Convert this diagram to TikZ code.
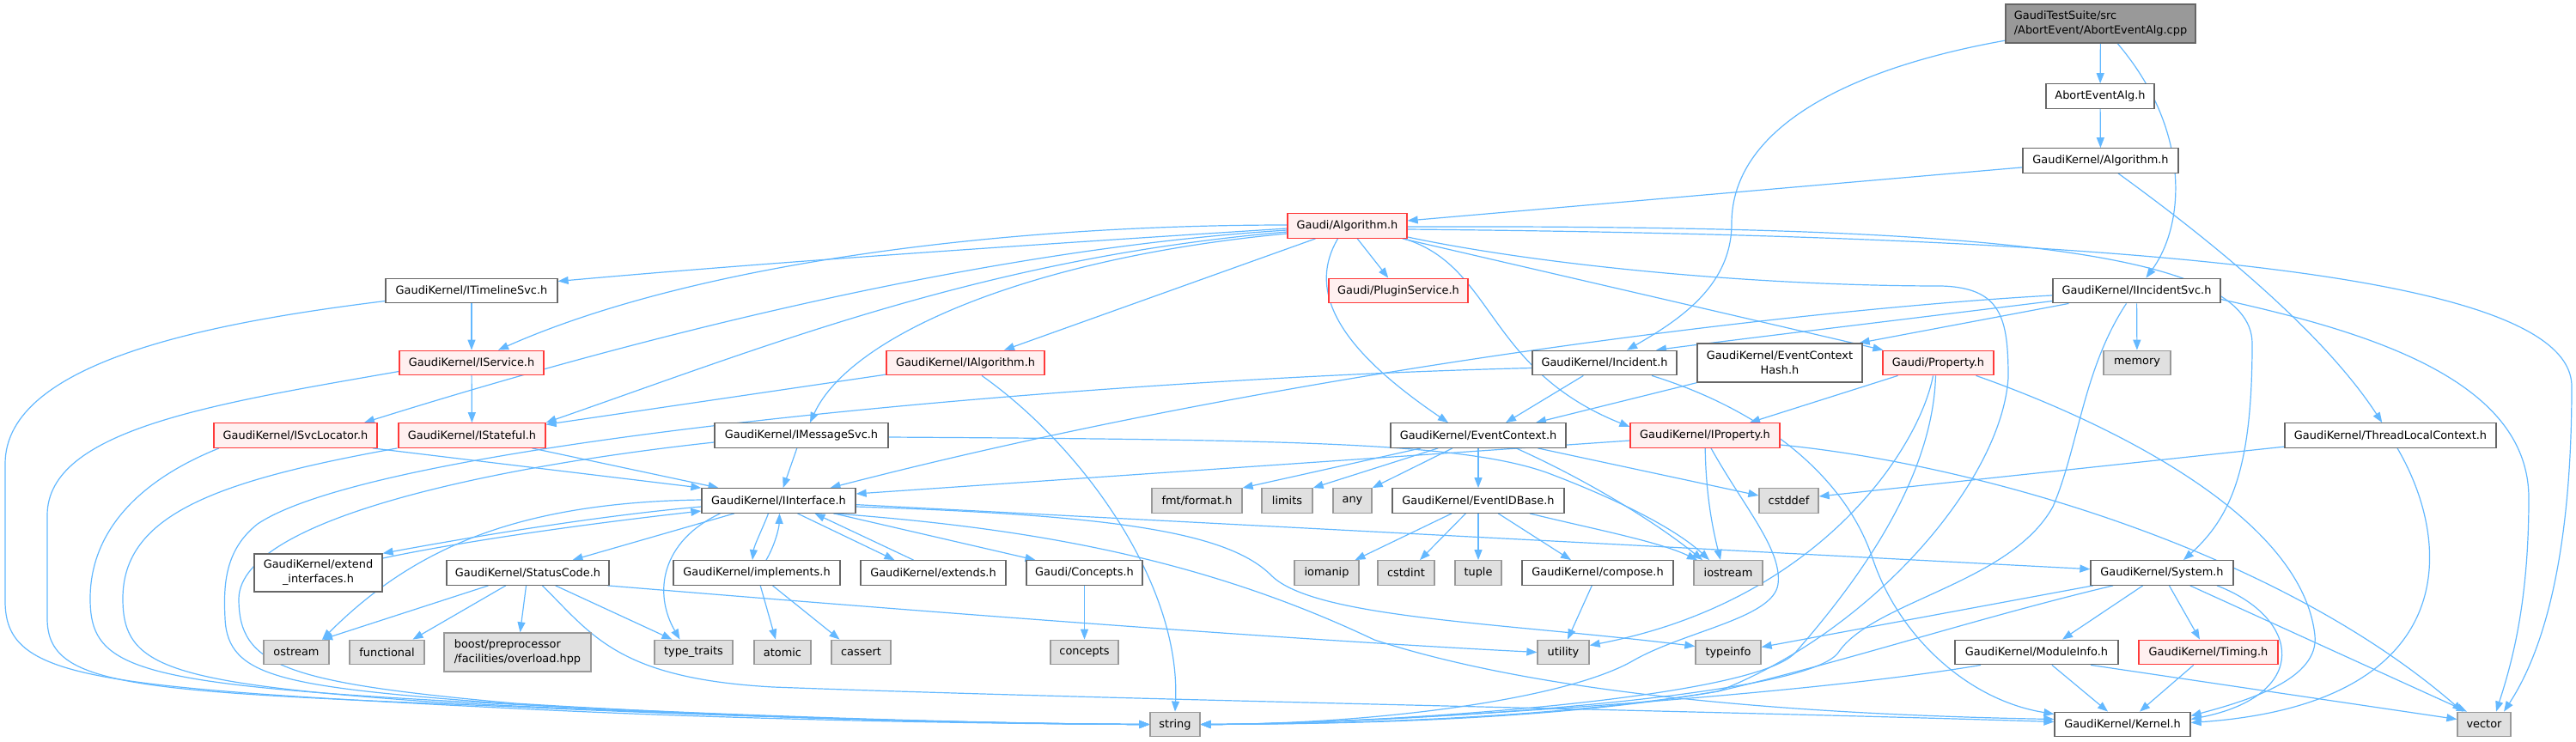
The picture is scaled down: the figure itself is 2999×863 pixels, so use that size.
\documentclass[tikz,border=0pt]{standalone}
\usepackage{fontspec}
\setmainfont{DejaVu Sans}
\usetikzlibrary{arrows.meta}
\pgfdeclarelayer{edgelayer}
\pgfsetlayers{edgelayer,main}
\definecolor{edgec}{HTML}{63B8FF}
\definecolor{nborder}{HTML}{666666}
\definecolor{gborder}{HTML}{999999}
\definecolor{gfill}{HTML}{E0E0E0}
\definecolor{rborder}{HTML}{FF3A3A}
\definecolor{rfill}{HTML}{FFF0F0}
\definecolor{tfill}{HTML}{999999}
\tikzset{
  basebox/.style={line width=1.3pt, inner sep=0pt, minimum height=28.5pt, font=\fontsize{12.9pt}{17pt}\selectfont},
  nb/.style={basebox, draw=nborder, fill=white},
  rb/.style={basebox, draw=rborder, fill=rfill},
  gb/.style={basebox, draw=gborder, fill=gfill},
  topn/.style={basebox, draw=nborder, fill=tfill},
  edg/.style={draw=edgec, line width=1.2pt, -{Triangle[length=12pt,width=9pt]}}
}
\begin{document}
\begin{tikzpicture}[x=1pt,y=-1pt]
\useasboundingbox (0,0) rectangle (2999,863);
% ---------------- nodes
\node[topn,minimum width=221pt,minimum height=45pt,align=left] (top) at (2445.5,27.5) {GaudiTestSuite/src\\/AbortEvent/AbortEventAlg.cpp};
\node[nb,minimum width=126pt] (aeh) at (2445,112) {AbortEventAlg.h};
\node[nb,minimum width=181pt] (gkalg) at (2445.5,187) {GaudiKernel/Algorithm.h};
\node[rb,minimum width=139pt] (galg) at (1568.5,263) {Gaudi/Algorithm.h};
\node[nb,minimum width=200pt] (itl) at (549,338.5) {GaudiKernel/ITimelineSvc.h};
\node[rb,minimum width=162pt] (plug) at (1628,338.5) {Gaudi/PluginService.h};
\node[nb,minimum width=195pt] (iinc) at (2487.5,338.5) {GaudiKernel/IIncidentSvc.h};
\node[rb,minimum width=168pt] (isvc) at (549,422.5) {GaudiKernel/IService.h};
\node[rb,minimum width=184pt] (ialg) at (1124,422.5) {GaudiKernel/IAlgorithm.h};
\node[nb,minimum width=168pt] (inc) at (1868,422.5) {GaudiKernel/Incident.h};
\node[nb,minimum width=192pt,minimum height=45pt,align=center] (ech) at (2072,422.5) {GaudiKernel/EventContext\\Hash.h};
\node[rb,minimum width=129pt] (prop) at (2256.5,422.5) {Gaudi/Property.h};
\node[gb,minimum width=78pt] (mem) at (2488,422.5) {memory};
\node[rb,minimum width=190pt] (isl) at (344,507) {GaudiKernel/ISvcLocator.h};
\node[rb,minimum width=171pt] (ist) at (549.5,507) {GaudiKernel/IStateful.h};
\node[nb,minimum width=202pt] (imsg) at (933,507) {GaudiKernel/IMessageSvc.h};
\node[nb,minimum width=204pt] (ectx) at (1721,507) {GaudiKernel/EventContext.h};
\node[rb,minimum width=174pt] (iprop) at (1985,507) {GaudiKernel/IProperty.h};
\node[nb,minimum width=246pt] (tlc) at (2783,507) {GaudiKernel/ThreadLocalContext.h};
\node[nb,minimum width=179pt] (iif) at (906.5,583) {GaudiKernel/IInterface.h};
\node[gb,minimum width=105pt] (fmt) at (1393.5,583) {fmt/format.h};
\node[gb,minimum width=59pt] (lim) at (1498.5,583) {limits};
\node[gb,minimum width=45pt] (any) at (1574.5,583) {any};
\node[nb,minimum width=200pt] (eid) at (1721,583) {GaudiKernel/EventIDBase.h};
\node[gb,minimum width=69pt] (cstddef) at (2082.5,583) {cstddef};
\node[nb,minimum width=149pt,minimum height=44pt,align=center] (ext) at (370.5,667) {GaudiKernel/extend\\\_interfaces.h};
\node[nb,minimum width=189pt] (sc) at (614.5,667) {GaudiKernel/StatusCode.h};
\node[nb,minimum width=194pt] (impl) at (881,667) {GaudiKernel/implements.h};
\node[nb,minimum width=169pt] (exts) at (1086.5,667) {GaudiKernel/extends.h};
\node[nb,minimum width=135pt] (conc) at (1262.5,667) {Gaudi/Concepts.h};
\node[gb,minimum width=75pt] (ioman) at (1544.5,667) {iomanip};
\node[gb,minimum width=66pt] (cstdint) at (1637,667) {cstdint};
\node[gb,minimum width=54pt] (tuple) at (1721,667) {tuple};
\node[nb,minimum width=176pt] (comp) at (1860,667) {GaudiKernel/compose.h};
\node[gb,minimum width=80pt] (iostr) at (2012,667) {iostream};
\node[nb,minimum width=166pt] (sys) at (2517,667) {GaudiKernel/System.h};
\node[gb,minimum width=76pt] (ostr) at (345,759.5) {ostream};
\node[gb,minimum width=87pt] (func) at (450.5,759.5) {functional};
\node[gb,minimum width=171pt,minimum height=45pt,align=left] (boost) at (602.5,759.5) {boost/preprocessor\\/facilities/overload.hpp};
\node[gb,minimum width=91pt] (tt) at (807.5,759.5) {type\_traits};
\node[gb,minimum width=66pt] (atom) at (911,759.5) {atomic};
\node[gb,minimum width=69pt] (cass) at (1002.5,759.5) {cassert};
\node[gb,minimum width=79pt] (concepts) at (1262.5,759.5) {concepts};
\node[gb,minimum width=60pt] (util) at (1820,759.5) {utility};
\node[gb,minimum width=76pt] (tinfo) at (2012,759.5) {typeinfo};
\node[nb,minimum width=190pt] (modi) at (2371,759.5) {GaudiKernel/ModuleInfo.h};
\node[rb,minimum width=162pt] (timing) at (2571,759.5) {GaudiKernel/Timing.h};
\node[gb,minimum width=58pt] (str) at (1368,843.5) {string};
\node[nb,minimum width=158pt] (kern) at (2471,843.5) {GaudiKernel/Kernel.h};
\node[gb,minimum width=62pt] (vec) at (2892,843.5) {vector};
% ---------------- edges
\begin{pgfonlayer}{edgelayer}
% top
\draw[edg] (top) -- (aeh);
\draw[edg] (top) .. controls (2550,150) and (2545,260) .. (iinc);
\draw[edg] (top) .. controls (2150,80) and (2016,150) .. (2016,260) .. controls (2016,330) and (1960,370) .. (inc);
\draw[edg] (aeh) -- (gkalg);
\draw[edg] (gkalg) -- (galg);
\draw[edg] (gkalg) .. controls (2560,270) and (2700,380) .. (tlc);
% Gaudi/Algorithm.h
\draw[edg] (galg) -- (plug);
\draw[edg] ([yshift=1]galg.west) .. controls (1150,262) and (800,310) .. ([xshift=31]isvc.north);
\draw[edg] ([yshift=-3]galg.west) .. controls (1200,285) and (900,305) .. ([yshift=11]itl.east);
\draw[edg] ([yshift=-5]galg.west) .. controls (1150,290) and (750,390) .. ([xshift=80]isl.north);
\draw[edg] ([yshift=-7]galg.west) .. controls (1150,300) and (900,400) .. (ist.north east);
\draw[edg] ([yshift=-9]galg.west) .. controls (1200,300) and (990,390) .. ([xshift=10]imsg.north);
\draw[edg] ([xshift=-37]galg.south) -- ([xshift=45]ialg.north);
\draw[edg] ([xshift=-11]galg.south) .. controls (1515,350) and (1580,420) .. ([xshift=-35]ectx.north);
\draw[edg] ([xshift=66]galg.south) .. controls (1740,310) and (1730,430) .. ([yshift=10]iprop.west);
\draw[edg] (galg) -- (prop);
\draw[edg] ([yshift=-1]galg.east) .. controls (2300,262) and (2622,290) .. (2622,400) .. controls (2622,540) and (2600,600) .. ([xshift=25]sys.north);
\draw[edg] ([yshift=-4]galg.east) .. controls (2500,275) and (2994,320) .. (2994,450) .. controls (2994,650) and (2960,760) .. ([xshift=23]vec.north);
\draw[edg] ([yshift=-13]galg.east) .. controls (1800,310) and (2050,333) .. (2260,333) .. controls (2330,335) and (2338,370) .. (2338,440) .. controls (2330,560) and (2180,735) .. (2000,805) .. controls (1800,840) and (1550,843) .. (str.east);
% IIncidentSvc
\draw[edg] (iinc) .. controls (2100,360) and (1500,430) .. ([xshift=60]iif.north);
\draw[edg] (iinc) .. controls (2150,380) and (2000,398) .. ([xshift=60]inc.north);
\draw[edg] (iinc) -- ([xshift=-4]ech.north east);
\draw[edg] (iinc) -- (mem);
\draw[edg] ([xshift=-12]iinc.south) .. controls (2425,430) and (2420,520) .. (2390,590) .. controls (2340,680) and (2180,700) .. (2140,760) .. controls (2100,815) and (1600,843) .. (str.east);
\draw[edg] ([yshift=-10]iinc.east) .. controls (2750,385) and (2944,440) .. (2944,580) .. controls (2944,700) and (2925,770) .. ([xshift=14]vec.north);
% Incident
\draw[edg] (inc) -- ([xshift=32]ectx.north);
\draw[edg] ([yshift=-6]inc.west) .. controls (1300,440) and (450,510) .. (300,610) .. controls (262,640) and (260,680) .. (262,720) .. controls (265,790) and (330,800) .. (600,820) .. controls (900,838) and (1200,843) .. (str.west);
\draw[edg] ([xshift=55]inc.south) .. controls (2060,480) and (2150,560) .. (2180,650) .. controls (2210,740) and (2290,815) .. ([yshift=12]kern.west);
\draw[edg] (ech.south west) -- ([xshift=67]ectx.north);
% left column
\draw[edg] (itl) -- (isvc);
\draw[edg] ([yshift=-12]itl.west) .. controls (250,375) and (6,420) .. (6,540) -- (6,700) .. controls (6,790) and (100,800) .. (600,825) .. controls (900,840) and (1200,843) .. (str.west);
\draw[edg] (isvc) -- (ist);
\draw[edg] ([yshift=-10]isvc.west) .. controls (250,470) and (55,500) .. (55,600) -- (55,720) .. controls (55,800) and (150,805) .. (600,823) .. controls (900,837) and (1200,843) .. (str.west);
\draw[edg] ([xshift=90]isl.south) -- (iif.north west);
\draw[edg] ([xshift=-89]isl.south) .. controls (160,560) and (105,620) .. (105,697) .. controls (105,775) and (150,795) .. (500,815) .. controls (900,837) and (1200,843) .. (str.west);
\draw[edg] (ist) -- ([xshift=-70]iif.north);
\draw[edg] ([xshift=-87]ist.south) .. controls (250,560) and (143,600) .. (143,697) .. controls (143,775) and (190,795) .. (500,817) .. controls (900,838) and (1200,843) .. (str.west);
\draw[edg] (ialg) -- (ist);
\draw[edg] ([xshift=19]ialg.south) .. controls (1260,520) and (1375,680) .. (str.north);
% IMessageSvc
\draw[edg] (imsg) -- (iif);
\draw[edg] ([yshift=-8]imsg.west) .. controls (600,540) and (280,600) .. (278,697) .. controls (278,775) and (330,795) .. (600,819) .. controls (900,838) and (1200,843) .. (str.west);
\draw[edg] ([yshift=-2]imsg.east) .. controls (1500,512) and (1700,515) .. (1800,550) .. controls (1880,580) and (1950,615) .. ([xshift=-22]iostr.north);
% IInterface
\draw[edg] ([yshift=-7]iif.west) .. controls (700,600) and (550,625) .. (ext.north east);
\draw[edg] ([yshift=17]ext.east) .. controls (550,628) and (700,608) .. ([yshift=-12]iif.west);
\draw[edg] (iif) -- ([xshift=52]sc.north);
\draw[edg] ([xshift=-12]iif.south) .. controls (888,615) and (878,635) .. ([xshift=-5]impl.north);
\draw[edg] ([xshift=11]impl.north) .. controls (902,635) and (907,615) .. ([xshift=1]iif.south);
\draw[edg] ([xshift=22]iif.south) -- ([xshift=-45]exts.north);
\draw[edg] ([xshift=-23]exts.north) -- ([xshift=42]iif.south);
\draw[edg] (iif) -- ([xshift=-57]conc.north);
\draw[edg] ([yshift=1]iif.west) .. controls (600,585) and (480,640) .. ([xshift=30]ostr.north);
\draw[edg] ([xshift=-68]iif.south) .. controls (770,630) and (760,690) .. ([xshift=-16]tt.north);
\draw[edg] (iif) -- (sys);
\draw[edg] ([yshift=-7]iif.east) .. controls (1300,600) and (1430,620) .. (1480,670) .. controls (1530,720) and (1750,725) .. ([yshift=7]tinfo.west);
\draw[edg] ([xshift=64]iif.south) .. controls (1200,615) and (1400,650) .. (1600,745) .. controls (1800,810) and (2100,832) .. ([yshift=6]kern.west);
% StatusCode
\draw[edg] (sc) -- ([xshift=30]ostr.north);
\draw[edg] (sc) -- ([xshift=30]func.north);
\draw[edg] (sc) -- (boost);
\draw[edg] (sc) -- ([xshift=-25]tt.north);
\draw[edg] ([xshift=-2]sc.south east) .. controls (1000,706) and (1450,742) .. (util.west);
\draw[edg] ([xshift=17]sc.south) .. controls (690,740) and (720,790) .. (900,800) .. controls (1300,815) and (2000,828) .. ([yshift=3]kern.west);
% implements, concepts
\draw[edg] (impl) -- ([xshift=-8]atom.north);
\draw[edg] (impl) -- ([xshift=-25]cass.north);
\draw[edg] (conc) -- (concepts);
% EventContext
\draw[edg] (ectx) -- (fmt.north east);
\draw[edg] (ectx) -- (lim.north east);
\draw[edg] (ectx) -- (any.north east);
\draw[edg] (ectx) -- (eid);
\draw[edg] ([xshift=44]ectx.south) .. controls (1850,560) and (1930,610) .. ([xshift=-30]iostr.north);
\draw[edg] (ectx) -- ([yshift=6]cstddef.west);
% EventIDBase
\draw[edg] (eid) -- ([xshift=33]ioman.north);
\draw[edg] (eid) -- ([xshift=16]cstdint.north);
\draw[edg] (eid) -- (tuple);
\draw[edg] (eid) -- ([xshift=-31]comp.north);
\draw[edg] ([xshift=60]eid.south) .. controls (1850,615) and (1930,630) .. ([xshift=-36]iostr.north);
\draw[edg] (comp) -- ([xshift=5]util.north);
% IProperty
\draw[edg] (iprop) -- ([yshift=8]iif.east);
\draw[edg] (iprop) .. controls (1986,580) and (1995,620) .. ([xshift=-9]iostr.north);
\draw[edg] ([xshift=7]iprop.south) .. controls (2030,590) and (2075,640) .. (2070,680) .. controls (2065,720) and (1960,735) .. (1900,770) .. controls (1820,815) and (1600,843) .. (str.east);
\draw[edg] ([yshift=-11]iprop.east) .. controls (2300,540) and (2650,640) .. ([xshift=-25]vec.north);
% Property
\draw[edg] (prop) -- ([xshift=52]iprop.north);
\draw[edg] ([xshift=-6]prop.south) .. controls (2235,520) and (2120,700) .. ([yshift=8]util.east);
\draw[edg] ([xshift=-3]prop.south) .. controls (2250,560) and (2160,680) .. (2090,760) .. controls (2040,815) and (1600,843) .. (str.east);
\draw[edg] ([xshift=44]prop.south) .. controls (2450,490) and (2680,600) .. (2695,740) .. controls (2700,790) and (2620,815) .. ([yshift=10]kern.east);
% ThreadLocalContext
\draw[edg] (tlc) -- ([yshift=5]cstddef.east);
\draw[edg] ([xshift=8]tlc.south) .. controls (2860,640) and (2860,820) .. ([yshift=2]kern.east);
% System
\draw[edg] (sys) -- ([yshift=6]tinfo.east);
\draw[edg] ([xshift=-57]sys.south) .. controls (2300,720) and (2150,770) .. (2000,805) .. controls (1800,838) and (1550,843) .. (str.east);
\draw[edg] (sys) -- ([xshift=30]modi.north);
\draw[edg] (sys) -- ([xshift=-10]timing.north);
\draw[edg] ([xshift=64]sys.south) .. controls (2680,720) and (2690,810) .. ([yshift=6]kern.east);
\draw[edg] (sys) -- ([xshift=-20]vec.north);
% ModuleInfo, Timing
\draw[edg] ([xshift=-65]modi.south) .. controls (2100,810) and (1600,843) .. (str.east);
\draw[edg] (modi) -- ([xshift=-17]kern.north);
\draw[edg] ([xshift=63]modi.south) -- ([yshift=6]vec.west);
\draw[edg] (timing) -- ([xshift=20]kern.north);
\end{pgfonlayer}
\end{tikzpicture}
\end{document}
